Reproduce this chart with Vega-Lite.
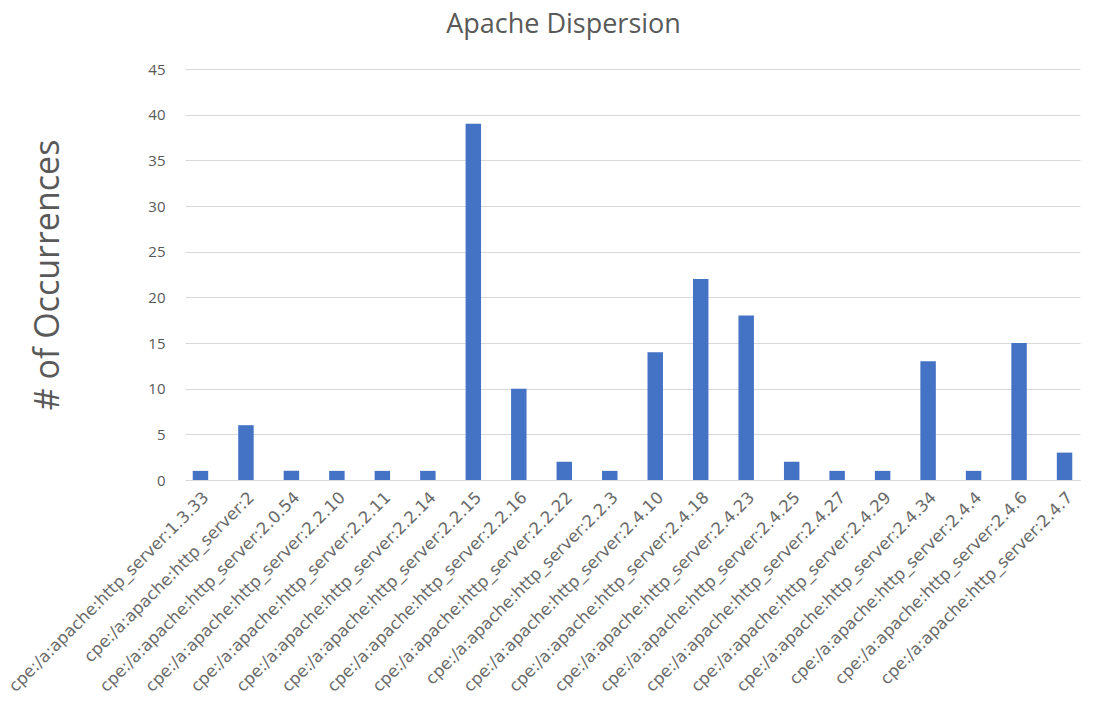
{
  "$schema": "https://vega.github.io/schema/vega-lite/v6.json",
  "width": 895,
  "height": 411,
  "autosize": "none",
  "padding": {"left": 185, "top": 69, "right": 22, "bottom": 226},
  "background": "white",
  "title": {
    "text": "Apache Dispersion",
    "font": "Open Sans",
    "fontSize": 27,
    "fontWeight": "normal",
    "color": "#595959",
    "anchor": "middle",
    "dx": -69,
    "offset": 23
  },
  "data": {
    "values": [
      {"version": "cpe:/a:apache:http_server:1.3.33", "count": 1},
      {"version": "cpe:/a:apache:http_server:2", "count": 6},
      {"version": "cpe:/a:apache:http_server:2.0.54", "count": 1},
      {"version": "cpe:/a:apache:http_server:2.2.10", "count": 1},
      {"version": "cpe:/a:apache:http_server:2.2.11", "count": 1},
      {"version": "cpe:/a:apache:http_server:2.2.14", "count": 1},
      {"version": "cpe:/a:apache:http_server:2.2.15", "count": 39},
      {"version": "cpe:/a:apache:http_server:2.2.16", "count": 10},
      {"version": "cpe:/a:apache:http_server:2.2.22", "count": 2},
      {"version": "cpe:/a:apache:http_server:2.2.3", "count": 1},
      {"version": "cpe:/a:apache:http_server:2.4.10", "count": 14},
      {"version": "cpe:/a:apache:http_server:2.4.18", "count": 22},
      {"version": "cpe:/a:apache:http_server:2.4.23", "count": 18},
      {"version": "cpe:/a:apache:http_server:2.4.25", "count": 2},
      {"version": "cpe:/a:apache:http_server:2.4.27", "count": 1},
      {"version": "cpe:/a:apache:http_server:2.4.29", "count": 1},
      {"version": "cpe:/a:apache:http_server:2.4.34", "count": 13},
      {"version": "cpe:/a:apache:http_server:2.4.4", "count": 1},
      {"version": "cpe:/a:apache:http_server:2.4.6", "count": 15},
      {"version": "cpe:/a:apache:http_server:2.4.7", "count": 3}
    ]
  },
  "mark": {"type": "bar", "color": "#4472c4"},
  "encoding": {
    "x": {
      "field": "version",
      "type": "nominal",
      "sort": null,
      "scale": {"paddingInner": 0.66, "paddingOuter": 0.17},
      "axis": {
        "title": null,
        "labelAngle": -45,
        "labelFont": "DejaVu Sans",
        "labelFontSize": 16.5,
        "labelColor": "#6a6a6a",
        "labelPadding": 9,
        "labelLimit": 400,
        "ticks": false,
        "domainColor": "#d9d9d9",
        "grid": false
      }
    },
    "y": {
      "field": "count",
      "type": "quantitative",
      "scale": {"domain": [0, 45]},
      "axis": {
        "title": "# of Occurrences",
        "titleFont": "Open Sans",
        "titleFontSize": 34,
        "titleFontWeight": "normal",
        "titleColor": "#595959",
        "titlePadding": 82,
        "values": [0, 5, 10, 15, 20, 25, 30, 35, 40, 45],
        "labelFont": "Open Sans",
        "labelFontSize": 15,
        "labelColor": "#595959",
        "labelPadding": 20,
        "ticks": false,
        "domain": false,
        "gridColor": "#d9d9d9",
        "gridWidth": 1
      }
    }
  },
  "config": {"view": {"stroke": null}}
}
